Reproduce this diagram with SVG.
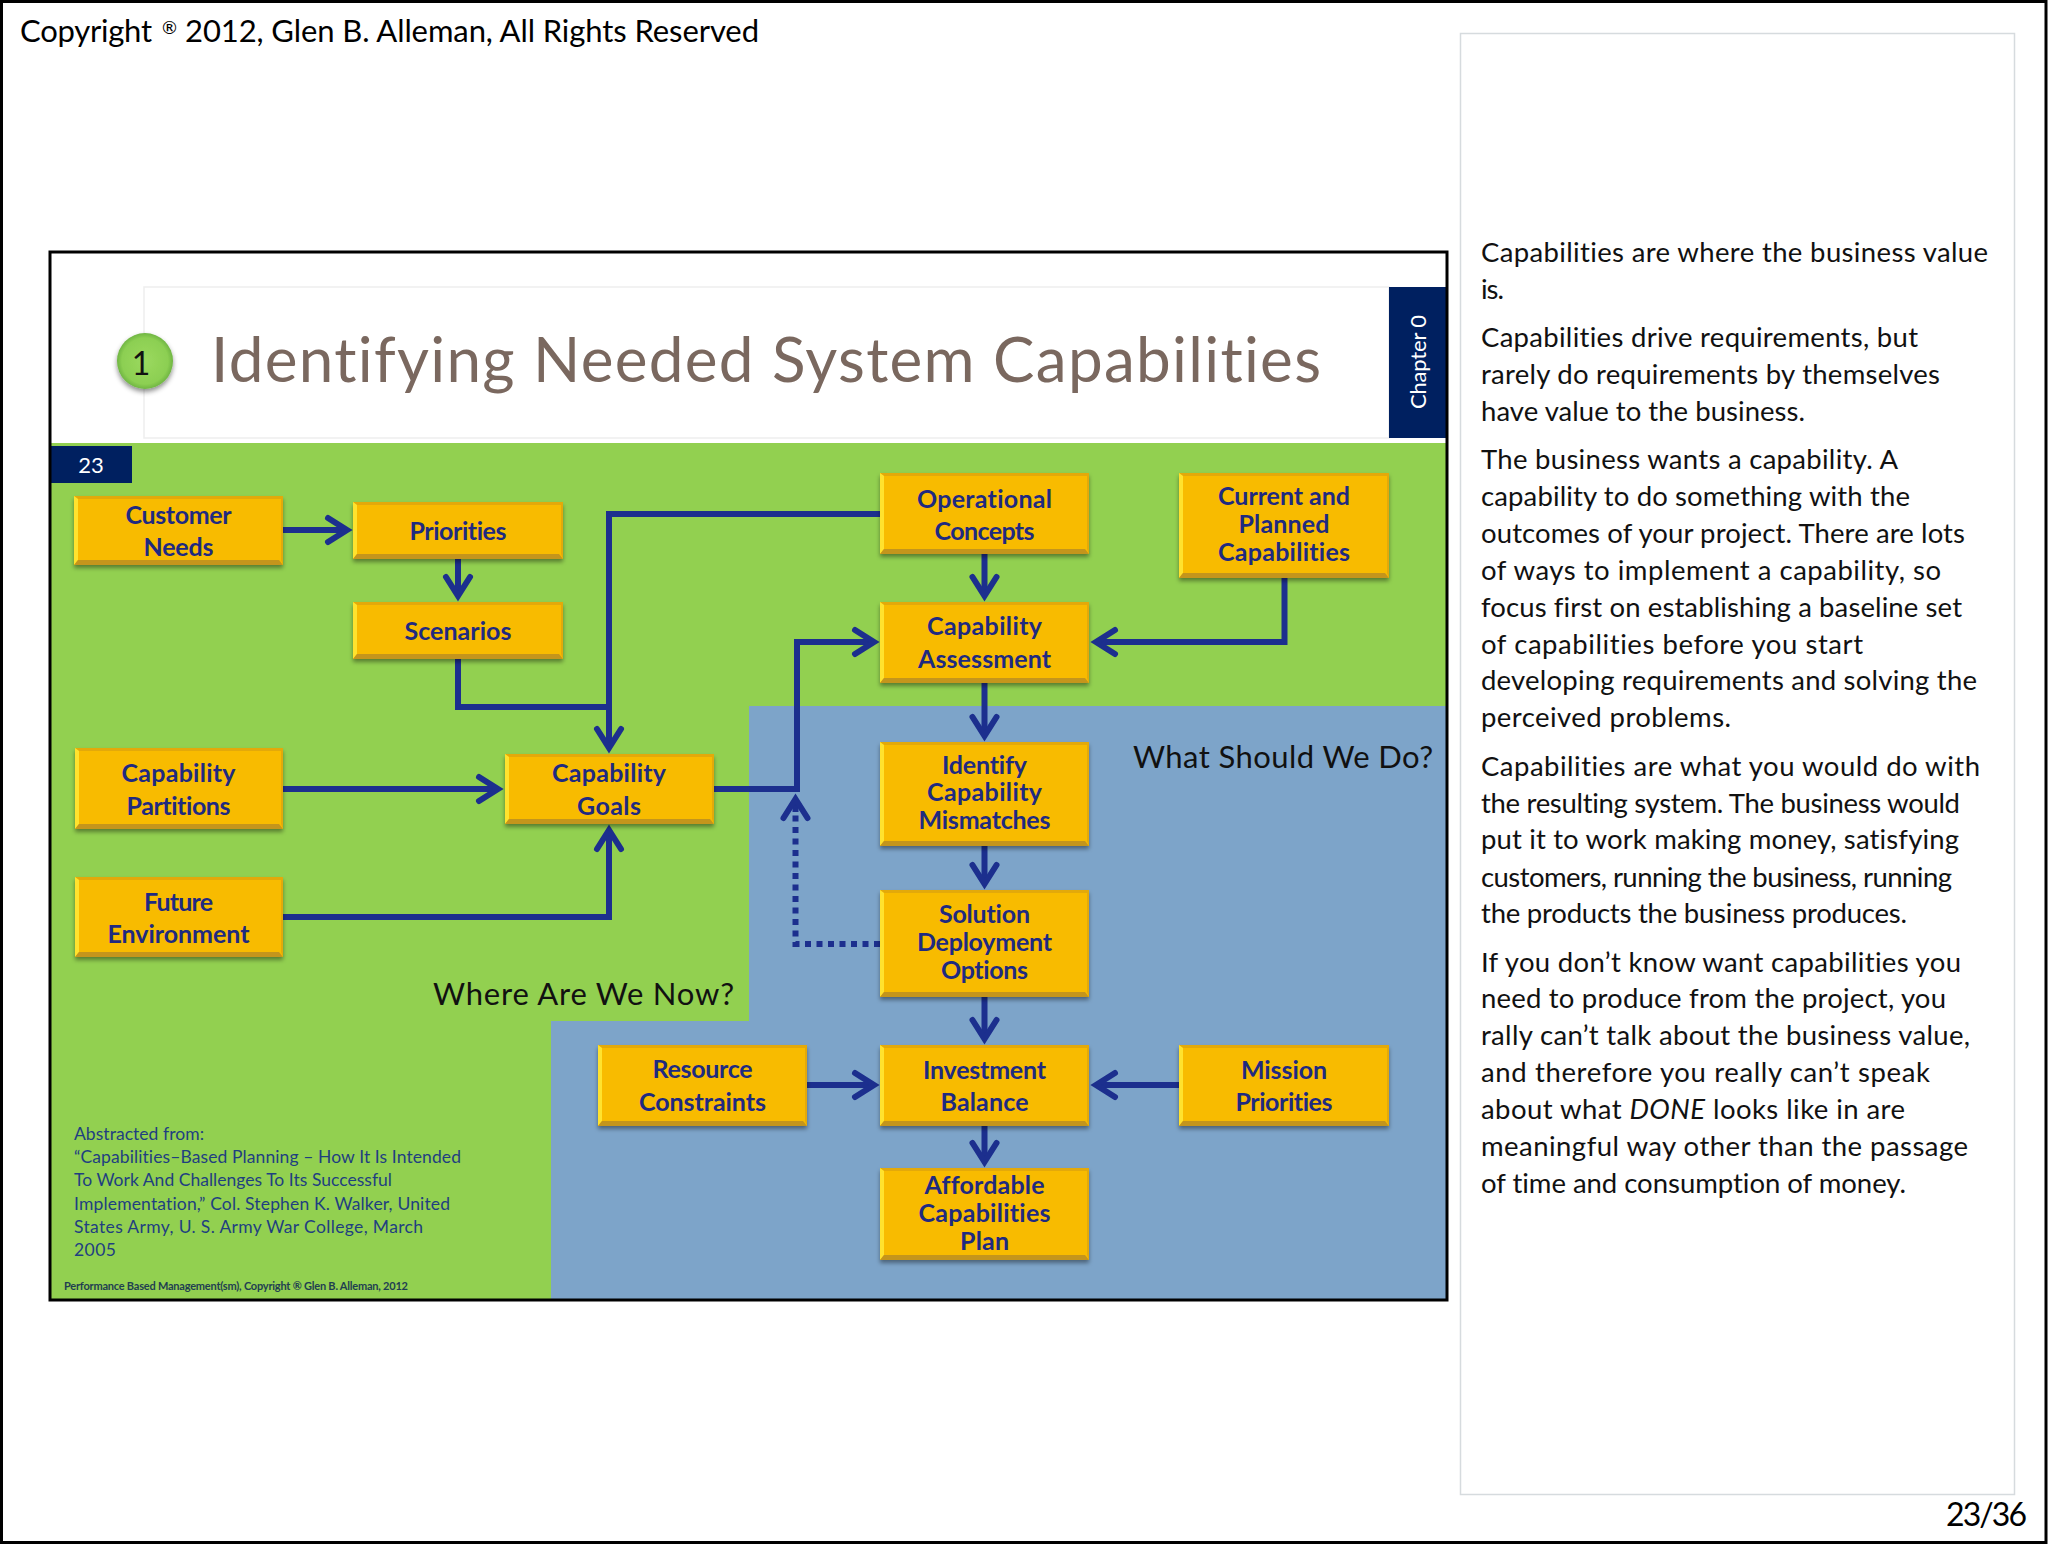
<svg xmlns="http://www.w3.org/2000/svg" width="2048" height="1545" viewBox="0 0 2048 1545">
<style>
text{font-family:"Lato","Liberation Sans",sans-serif;font-variant-ligatures:none}
.b{fill:#f8bb00;filter:url(#sh)}
.l{fill:#ffe22e}
.d{fill:#c4951c}
.t{fill:#e3a90a}
.n{font-size:25px;font-weight:700;fill:#1f2a80;text-anchor:middle;transform:translateY(1px)}
.c{fill:none;stroke:#1c2f8e;stroke-width:6}
.a{marker-end:url(#ah)}
.p{font-size:27.5px;fill:#111;transform:translateY(1px)}
.q{font-size:31px;fill:#111;transform:translateY(1.5px)}
.s{font-size:17.5px;fill:#1f3f80;transform:translateY(0.5px)}
</style>
<defs>
<filter id="sh" x="-10%" y="-10%" width="120%" height="125%"><feDropShadow dx="0" dy="3" stdDeviation="2" flood-color="#000" flood-opacity="0.4"/></filter>
<filter id="sh2" x="-30%" y="-30%" width="160%" height="170%"><feDropShadow dx="0" dy="3" stdDeviation="2.5" flood-color="#000" flood-opacity="0.45"/></filter>
<radialGradient id="ball" cx="50%" cy="50%" r="55%"><stop offset="0" stop-color="#9bd95f"/><stop offset="0.75" stop-color="#8ccf52"/><stop offset="1" stop-color="#5fa63a"/></radialGradient>
<marker id="ah" markerUnits="userSpaceOnUse" markerWidth="40" markerHeight="40" viewBox="-30 -20 40 40" refX="0" refY="0" orient="auto" overflow="visible"><path d="M-19,-12 L0,0 L-19,12" fill="none" stroke="#1c2f8e" stroke-width="6" stroke-linecap="round"/></marker>
</defs>
<rect x="0" y="0" width="2048" height="1545" fill="#fff"/>
<rect x="1.5" y="1.5" width="2044.5" height="1541" fill="none" stroke="#000" stroke-width="3"/>
<text font-size="31" fill="#000"><tspan x="20" y="42" textLength="132">Copyright</tspan><tspan x="162" y="34" font-size="18">®</tspan><tspan x="185" y="42" textLength="574">2012, Glen B. Alleman, All Rights Reserved</tspan></text>
<rect x="1460.5" y="33.5" width="554" height="1461" fill="#fff" stroke="#d6dbde" stroke-width="1.5"/>
<text x="1946" y="1526" font-size="32" fill="#000" textLength="81">23/36</text>

<g id="slide">
<rect x="50" y="252" width="1397" height="1048" fill="#fff"/>
<rect x="144" y="287" width="1245" height="151" fill="#fff" stroke="#eeeeee" stroke-width="1.5"/>
<rect x="50" y="443" width="1397" height="857" fill="#92d050"/>
<path d="M749,706 H1447 V1300 H551 V1021 H749 Z" fill="#7da4c9"/>
<rect id="chapter" x="1389" y="287" width="58" height="151" fill="#002060"/>
<text x="1426" y="409" font-size="22" fill="#fff" textLength="94" transform="rotate(-90 1426 409)">Chapter 0</text>
<rect x="50" y="446" width="82" height="37" fill="#002060"/>
<text x="91" y="473" font-size="22" fill="#fff" text-anchor="middle">23</text>
<circle cx="145" cy="361" r="28" fill="url(#ball)" filter="url(#sh2)"/>
<text x="141" y="375" font-size="32" fill="#111" text-anchor="middle">1</text>
<text x="211" y="382" font-size="62" fill="#7a685f" textLength="1110">Identifying Needed System Capabilities</text>
<text x="433" y="1003" class="q" textLength="301">Where Are We Now?</text>
<text x="1133" y="766" class="q" textLength="300">What Should We Do?</text>
<text x="74" y="1139" class="s" textLength="130">Abstracted from:</text>
<text x="74" y="1162" class="s" textLength="387">“Capabilities–Based Planning – How It Is Intended</text>
<text x="74" y="1185" class="s" textLength="318">To Work And Challenges To Its Successful</text>
<text x="74" y="1209" class="s" textLength="376">Implementation,” Col. Stephen K. Walker, United</text>
<text x="74" y="1232" class="s" textLength="349">States Army, U. S. Army War College, March</text>
<text x="74" y="1255" class="s" textLength="42">2005</text>
<text x="64" y="1290" font-size="11" fill="#1f3f50" font-weight="700" textLength="344">Performance Based Management(sm), Copyright ® Glen B. Alleman, 2012</text>
</g>

<g id="connectors">
<path class="c a" d="M283,530 H347"/>
<path class="c a" d="M458,559 V596"/>
<path class="c a" d="M880,514 H609 V748"/>
<path class="c" d="M458,659 V707 H609"/>
<path class="c a" d="M283,789 H498"/>
<path class="c a" d="M283,917 H609 V830"/>
<path class="c a" d="M714,789 H797 V642 H874"/>
<path class="c a" d="M1284.5,578 V642 H1096"/>
<path class="c a" d="M984.5,554 V596"/>
<path class="c a" d="M984.5,683 V736"/>
<path class="c a" d="M984.5,846 V884"/>
<path class="c a" d="M984.5,997 V1039"/>
<path class="c a" d="M807,1085 H874"/>
<path class="c a" d="M1179,1085 H1096"/>
<path class="c a" d="M984.5,1126 V1162"/>
<path class="c" stroke-dasharray="6 5.5" d="M880,944 H795.5 V812"/>
<path class="c a" d="M795.5,812 V799"/>
</g>

<g id="customer-needs"><rect class="b" x="74" y="496" width="209" height="69"/><path class="t" d="M74,496 H283 l-2,3 H78 z M283,496 V565 l-2,-5 V499 z"/><path class="l" d="M74,496 l4,3 V560 L74,565 z"/><path class="d" d="M74,565 l4,-5 H279 l4,5 z"/><text class="n" x="178.5" y="523" textLength="106">Customer</text><text class="n" x="178.5" y="555" textLength="70">Needs</text></g>
<g id="priorities"><rect class="b" x="353" y="502" width="210" height="57"/><path class="t" d="M353,502 H563 l-2,3 H357 z M563,502 V559 l-2,-5 V505 z"/><path class="l" d="M353,502 l4,3 V554 L353,559 z"/><path class="d" d="M353,559 l4,-5 H559 l4,5 z"/><text class="n" x="458" y="539" textLength="97">Priorities</text></g>
<g id="scenarios"><rect class="b" x="353" y="602" width="210" height="57"/><path class="t" d="M353,602 H563 l-2,3 H357 z M563,602 V659 l-2,-5 V605 z"/><path class="l" d="M353,602 l4,3 V654 L353,659 z"/><path class="d" d="M353,659 l4,-5 H559 l4,5 z"/><text class="n" x="458" y="639" textLength="107">Scenarios</text></g>
<g id="capability-partitions"><rect class="b" x="75" y="748" width="208" height="81"/><path class="t" d="M75,748 H283 l-2,3 H79 z M283,748 V829 l-2,-5 V751 z"/><path class="l" d="M75,748 l4,3 V824 L75,829 z"/><path class="d" d="M75,829 l4,-5 H279 l4,5 z"/><text class="n" x="178.5" y="781" textLength="114">Capability</text><text class="n" x="178.5" y="814" textLength="104">Partitions</text></g>
<g id="capability-goals"><rect class="b" x="505" y="754" width="209" height="70"/><path class="t" d="M505,754 H714 l-2,3 H509 z M714,754 V824 l-2,-5 V757 z"/><path class="l" d="M505,754 l4,3 V819 L505,824 z"/><path class="d" d="M505,824 l4,-5 H710 l4,5 z"/><text class="n" x="609" y="781" textLength="114">Capability</text><text class="n" x="609" y="814" textLength="64">Goals</text></g>
<g id="future-environment"><rect class="b" x="75" y="877" width="208" height="80"/><path class="t" d="M75,877 H283 l-2,3 H79 z M283,877 V957 l-2,-5 V880 z"/><path class="l" d="M75,877 l4,3 V952 L75,957 z"/><path class="d" d="M75,957 l4,-5 H279 l4,5 z"/><text class="n" x="178.5" y="910" textLength="69">Future</text><text class="n" x="178.5" y="942" textLength="142">Environment</text></g>
<g id="operational-concepts"><rect class="b" x="880" y="473" width="209" height="81"/><path class="t" d="M880,473 H1089 l-2,3 H884 z M1089,473 V554 l-2,-5 V476 z"/><path class="l" d="M880,473 l4,3 V549 L880,554 z"/><path class="d" d="M880,554 l4,-5 H1085 l4,5 z"/><text class="n" x="984.5" y="507" textLength="135">Operational</text><text class="n" x="984.5" y="539" textLength="100">Concepts</text></g>
<g id="current-planned"><rect class="b" x="1179" y="473" width="210" height="105"/><path class="t" d="M1179,473 H1389 l-2,3 H1183 z M1389,473 V578 l-2,-5 V476 z"/><path class="l" d="M1179,473 l4,3 V573 L1179,578 z"/><path class="d" d="M1179,578 l4,-5 H1385 l4,5 z"/><text class="n" x="1284" y="504" textLength="132">Current and</text><text class="n" x="1284" y="532" textLength="91">Planned</text><text class="n" x="1284" y="560" textLength="132">Capabilities</text></g>
<g id="capability-assessment"><rect class="b" x="880" y="602" width="209" height="81"/><path class="t" d="M880,602 H1089 l-2,3 H884 z M1089,602 V683 l-2,-5 V605 z"/><path class="l" d="M880,602 l4,3 V678 L880,683 z"/><path class="d" d="M880,683 l4,-5 H1085 l4,5 z"/><text class="n" x="984.5" y="634" textLength="115">Capability</text><text class="n" x="984.5" y="667" textLength="133">Assessment</text></g>
<g id="identify-mismatches"><rect class="b" x="880" y="742" width="209" height="104"/><path class="t" d="M880,742 H1089 l-2,3 H884 z M1089,742 V846 l-2,-5 V745 z"/><path class="l" d="M880,742 l4,3 V841 L880,846 z"/><path class="d" d="M880,846 l4,-5 H1085 l4,5 z"/><text class="n" x="984.5" y="773" textLength="85">Identify</text><text class="n" x="984.5" y="800" textLength="115">Capability</text><text class="n" x="984.5" y="828" textLength="132">Mismatches</text></g>
<g id="solution-options"><rect class="b" x="880" y="890" width="209" height="107"/><path class="t" d="M880,890 H1089 l-2,3 H884 z M1089,890 V997 l-2,-5 V893 z"/><path class="l" d="M880,890 l4,3 V992 L880,997 z"/><path class="d" d="M880,997 l4,-5 H1085 l4,5 z"/><text class="n" x="984.5" y="922" textLength="91">Solution</text><text class="n" x="984.5" y="950" textLength="135">Deployment</text><text class="n" x="984.5" y="978" textLength="87">Options</text></g>
<g id="resource-constraints"><rect class="b" x="598" y="1045" width="209" height="81"/><path class="t" d="M598,1045 H807 l-2,3 H602 z M807,1045 V1126 l-2,-5 V1048 z"/><path class="l" d="M598,1045 l4,3 V1121 L598,1126 z"/><path class="d" d="M598,1126 l4,-5 H803 l4,5 z"/><text class="n" x="702.5" y="1077" textLength="100">Resource</text><text class="n" x="702.5" y="1110" textLength="127">Constraints</text></g>
<g id="investment-balance"><rect class="b" x="880" y="1045" width="209" height="81"/><path class="t" d="M880,1045 H1089 l-2,3 H884 z M1089,1045 V1126 l-2,-5 V1048 z"/><path class="l" d="M880,1045 l4,3 V1121 L880,1126 z"/><path class="d" d="M880,1126 l4,-5 H1085 l4,5 z"/><text class="n" x="984.5" y="1078" textLength="123">Investment</text><text class="n" x="984.5" y="1110" textLength="88">Balance</text></g>
<g id="mission-priorities"><rect class="b" x="1179" y="1045" width="210" height="81"/><path class="t" d="M1179,1045 H1389 l-2,3 H1183 z M1389,1045 V1126 l-2,-5 V1048 z"/><path class="l" d="M1179,1045 l4,3 V1121 L1179,1126 z"/><path class="d" d="M1179,1126 l4,-5 H1385 l4,5 z"/><text class="n" x="1284" y="1078" textLength="86">Mission</text><text class="n" x="1284" y="1110" textLength="97">Priorities</text></g>
<g id="affordable-plan"><rect class="b" x="880" y="1168" width="209" height="92"/><path class="t" d="M880,1168 H1089 l-2,3 H884 z M1089,1168 V1260 l-2,-5 V1171 z"/><path class="l" d="M880,1168 l4,3 V1255 L880,1260 z"/><path class="d" d="M880,1260 l4,-5 H1085 l4,5 z"/><text class="n" x="984.5" y="1193" textLength="120">Affordable</text><text class="n" x="984.5" y="1221" textLength="132">Capabilities</text><text class="n" x="984.5" y="1249" textLength="49">Plan</text></g>

<g id="notes">
<text class="p" x="1481" y="261" textLength="507">Capabilities are where the business value</text>
<text class="p" x="1481" y="298" textLength="23">is.</text>
<text class="p" x="1481" y="346" textLength="437">Capabilities drive requirements, but</text>
<text class="p" x="1481" y="383" textLength="459">rarely do requirements by themselves</text>
<text class="p" x="1481" y="420" textLength="324">have value to the business.</text>
<text class="p" x="1481" y="468" textLength="417">The business wants a capability. A</text>
<text class="p" x="1481" y="505" textLength="429">capability to do something with the</text>
<text class="p" x="1481" y="542" textLength="484">outcomes of your project. There are lots</text>
<text class="p" x="1481" y="579" textLength="460">of ways to implement a capability, so</text>
<text class="p" x="1481" y="616" textLength="481">focus first on establishing a baseline set</text>
<text class="p" x="1481" y="653" textLength="382">of capabilities before you start</text>
<text class="p" x="1481" y="689" textLength="496">developing requirements and solving the</text>
<text class="p" x="1481" y="726" textLength="250">perceived problems.</text>
<text class="p" x="1481" y="775" textLength="499">Capabilities are what you would do with</text>
<text class="p" x="1481" y="812" textLength="479">the resulting system. The business would</text>
<text class="p" x="1481" y="848" textLength="478">put it to work making money, satisfying</text>
<text class="p" x="1481" y="886" textLength="471">customers, running the business, running</text>
<text class="p" x="1481" y="922" textLength="426">the products the business produces.</text>
<text class="p" x="1481" y="971" textLength="480">If you don’t know want capabilities you</text>
<text class="p" x="1481" y="1007" textLength="465">need to produce from the project, you</text>
<text class="p" x="1481" y="1044" textLength="489">rally can’t talk about the business value,</text>
<text class="p" x="1481" y="1081" textLength="449">and therefore you really can’t speak</text>
<text class="p" x="1481" y="1118" textLength="424">about what <tspan font-style="italic">DONE</tspan> looks like in are</text>
<text class="p" x="1481" y="1155" textLength="487">meaningful way other than the passage</text>
<text class="p" x="1481" y="1192" textLength="425">of time and consumption of money.</text>
</g>
<rect x="50" y="252" width="1397" height="1048" fill="none" stroke="#000" stroke-width="3"/>
</svg>
